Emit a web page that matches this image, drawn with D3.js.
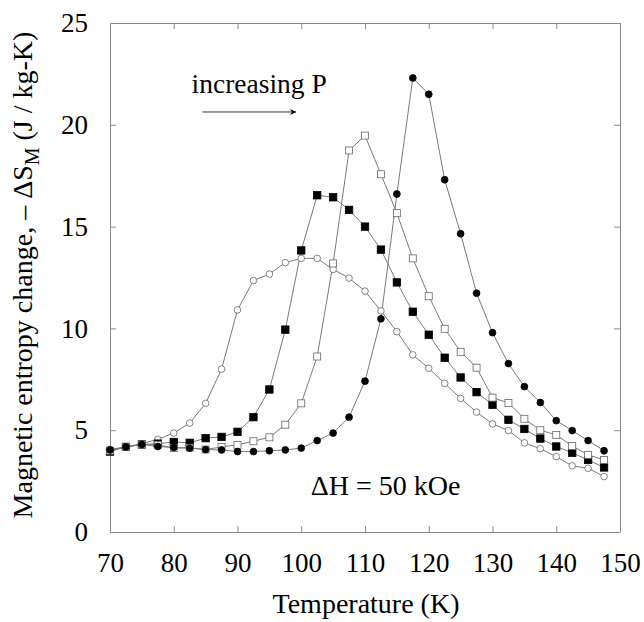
<!DOCTYPE html>
<html>
<head>
<meta charset="utf-8">
<script src="https://cdn.jsdelivr.net/npm/d3@7"></script>
<style>
  body { margin: 0; background: #fff; }
  text { font-family: "Liberation Serif", "Times New Roman", serif; fill: #000; }
</style>
</head>
<body>
<div id="graf"></div>
<script>
// Temperaturas (K)
temps = [70, 72.5, 75, 77.5, 80, 82.5, 85, 87.5, 90, 92.5, 95, 97.5, 100, 102.5, 105, 107.5,
         110, 112.5, 115, 117.5, 120, 122.5, 125, 127.5, 130, 132.5, 135, 137.5, 140, 142.5, 145, 147.5]

// -dS_M (J / kg-K), de menor a mayor presion
circAbierto = [4.05, 4.18, 4.34, 4.55, 4.86, 5.35, 6.32, 8.0, 10.91, 12.35, 12.67, 13.23, 13.44, 13.44, 12.9, 12.47,
               11.83, 10.86, 9.84, 8.7, 8.04, 7.3, 6.56, 5.89, 5.31, 4.98, 4.38, 4.09, 3.7, 3.25, 3.13, 2.72]
cuadLleno   = [3.95, 4.18, 4.3, 4.34, 4.42, 4.38, 4.61, 4.67, 4.92, 5.64, 7.0, 9.94, 13.83, 16.54, 16.44, 15.82,
               15.0, 13.87, 12.26, 10.82, 9.69, 8.56, 7.59, 6.87, 6.25, 5.51, 5.06, 4.59, 4.2, 3.89, 3.54, 3.17]
cuadAbierto = [4.0, 4.18, 4.3, 4.28, 4.12, 4.14, 4.05, 4.18, 4.28, 4.46, 4.65, 5.27, 6.32, 8.62, 13.19, 18.74,
               19.47, 17.57, 15.66, 13.44, 11.58, 9.98, 8.85, 8.07, 6.6, 6.34, 5.56, 5.0, 4.77, 4.22, 3.79, 3.54]
circLleno   = [4.03, 4.18, 4.3, 4.2, 4.15, 4.12, 4.05, 4.03, 3.95, 3.95, 3.99, 4.03, 4.12, 4.49, 4.86, 5.64,
               7.41, 10.47, 16.6, 22.3, 21.5, 17.3, 14.65, 11.73, 9.79, 8.27, 7.14, 6.36, 5.47, 4.98, 4.49, 3.99]

xTicks = [70, 80, 90, 100, 110, 120, 130, 140, 150]
yTicks = [0, 5, 10, 15, 20, 25]

ancho_total = 644
alto_total  = 622
margins = { top: 23, left: 110, right: 24, bottom: 90 }
ancho = ancho_total - margins.left - margins.right
alto  = alto_total - margins.top - margins.bottom

svg = d3.select('#graf').append('svg')
        .attr('width', ancho_total)
        .attr('height', alto_total)

defs = svg.append('defs')
defs.append('marker')
    .attr('id', 'flecha')
    .attr('viewBox', '0 0 10 10')
    .attr('refX', 10).attr('refY', 5)
    .attr('markerWidth', 11).attr('markerHeight', 6)
    .attr('markerUnits', 'userSpaceOnUse')
    .attr('orient', 'auto')
  .append('path')
    .attr('d', 'M0,0 L10,5 L0,10 L3,5 Z')
    .attr('fill', '#000')

g = svg.append('g')
       .attr('transform', `translate(${margins.left}, ${margins.top})`)

// Escaladores
x = d3.scaleLinear().domain([70, 150]).range([0, ancho])
y = d3.scaleLinear().domain([0, 25]).range([alto, 0])

// Ejes (ticks hacia adentro en los cuatro lados)
gris = '#8a8a8a'
function estiloEje(sel) {
  sel.select('.domain').attr('stroke', gris)
  sel.selectAll('.tick line').attr('stroke', gris)
  sel.selectAll('.tick text')
     .style('font-family', '"Liberation Serif", serif')
     .style('font-size', '27px')
     .attr('fill', '#000')
}

xAxis = g.append('g').attr('transform', `translate(0, ${alto})`)
         .call(d3.axisBottom(x).tickValues(xTicks).tickSizeInner(-6).tickSizeOuter(0).tickPadding(21))
xAxis.call(estiloEje)

xTop = g.append('g')
         .call(d3.axisTop(x).tickValues(xTicks).tickSizeInner(-6).tickSizeOuter(0).tickFormat(''))
xTop.call(estiloEje)

yAxis = g.append('g')
         .call(d3.axisLeft(y).tickValues(yTicks).tickSizeInner(-6).tickSizeOuter(0).tickPadding(22))
yAxis.call(estiloEje)

yRight = g.append('g').attr('transform', `translate(${ancho}, 0)`)
         .call(d3.axisRight(y).tickValues(yTicks).tickSizeInner(-6).tickSizeOuter(0).tickFormat(''))
yRight.call(estiloEje)

// Series
series = [
  { nombre: 'circAbierto', valores: circAbierto, forma: 'circulo', relleno: '#fff', borde: '#666', tam: 3.3 },
  { nombre: 'cuadLleno',   valores: cuadLleno,   forma: 'cuadro',  relleno: '#000', borde: '#000', tam: 7.4 },
  { nombre: 'cuadAbierto', valores: cuadAbierto, forma: 'cuadro',  relleno: '#fff', borde: '#666', tam: 7 },
  { nombre: 'circLleno',   valores: circLleno,   forma: 'circulo', relleno: '#000', borde: '#000', tam: 3.4 }
]

lineaGen = d3.line()
             .x(d => x(d.t))
             .y(d => y(d.v))

series.forEach(s => {
  let datos = temps.map((t, i) => ({ t: t, v: s.valores[i] }))
  g.append('path')
   .datum(datos)
   .attr('fill', 'none')
   .attr('stroke', '#7a7a7a')
   .attr('stroke-width', 1)
   .attr('d', lineaGen)
})

series.forEach(s => {
  let datos = temps.map((t, i) => ({ t: t, v: s.valores[i] }))
  let grupo = g.append('g').attr('class', s.nombre)
  if (s.forma == 'circulo') {
    grupo.selectAll('circle').data(datos).enter().append('circle')
         .attr('cx', d => x(d.t))
         .attr('cy', d => y(d.v))
         .attr('r', s.tam)
         .attr('fill', s.relleno)
         .attr('stroke', s.borde)
         .attr('stroke-width', 0.8)
  } else {
    grupo.selectAll('rect').data(datos).enter().append('rect')
         .attr('x', d => x(d.t) - s.tam / 2)
         .attr('y', d => y(d.v) - s.tam / 2)
         .attr('width', s.tam)
         .attr('height', s.tam)
         .attr('fill', s.relleno)
         .attr('stroke', s.borde)
         .attr('stroke-width', 0.8)
  }
})

// Anotaciones
g.append('text')
 .attr('x', x(82.8)).attr('y', y(21.55))
 .style('font-size', '27.5px')
 .text('increasing P')

g.append('line')
 .attr('x1', x(84.5)).attr('y1', y(20.63))
 .attr('x2', x(99.2)).attr('y2', y(20.63))
 .attr('stroke', '#000').attr('stroke-width', 0.8)
 .attr('marker-end', 'url(#flecha)')

g.append('text')
 .attr('x', x(101.5)).attr('y', y(1.82))
 .style('font-size', '28px')
 .text('\u0394H = 50 kOe')

// Titulos de ejes
svg.append('text')
   .attr('x', 366)
   .attr('y', 613)
   .attr('text-anchor', 'middle')
   .style('font-size', '28px')
   .text('Temperature (K)')

tituloY = svg.append('text')
   .attr('transform', `translate(32, 275) rotate(-90)`)
   .attr('text-anchor', 'middle')
   .style('font-size', '28px')
tituloY.append('tspan').text('Magnetic entropy change, \u2013 \u0394S')
tituloY.append('tspan').attr('dy', 7).style('font-size', '20px').text('M')
tituloY.append('tspan').attr('dy', -7).text(' (J / kg-K)')
</script>
</body>
</html>
